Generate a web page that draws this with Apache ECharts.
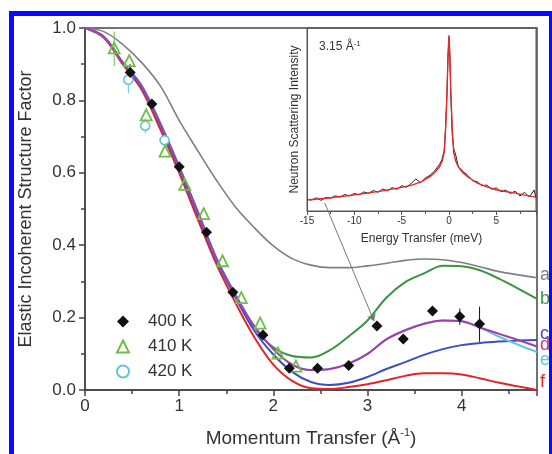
<!DOCTYPE html>
<html>
<head>
<meta charset="utf-8">
<script src="https://cdn.jsdelivr.net/npm/echarts@6/dist/echarts.min.js"></script>
<style>
  html, body { margin: 0; padding: 0; background: #fff; }
  #chart { width: 552px; height: 454px; }
</style>
</head>
<body>
<div id="chart"></div>
<script>
// momentum transfer grid for the model curves (1/A)
const qFit = [0, 0.2, 0.4, 0.6, 0.8, 1.0, 1.2, 1.4, 1.6, 1.8, 2.0, 2.2, 2.4,
  2.6, 2.8, 3.0, 3.2, 3.4, 3.6, 3.8, 4.0, 4.2, 4.4, 4.6, 4.8];
const curveA = [1.0, 0.99, 0.955, 0.905, 0.84, 0.745, 0.66, 0.578, 0.505, 0.448, 0.398, 0.363, 0.345,
  0.338, 0.338, 0.343, 0.35, 0.358, 0.362, 0.36, 0.352, 0.34, 0.327, 0.318, 0.31];
const curveB = [1.0, 0.976, 0.906, 0.842, 0.737, 0.618, 0.492, 0.362, 0.262, 0.172, 0.118, 0.094, 0.09,
  0.11, 0.148, 0.192, 0.255, 0.298, 0.322, 0.343, 0.342, 0.33, 0.307, 0.28, 0.252];
const curveC = [1.0, 0.975, 0.903, 0.836, 0.73, 0.61, 0.482, 0.355, 0.255, 0.163, 0.098, 0.05, 0.022,
  0.014, 0.02, 0.036, 0.058, 0.077, 0.097, 0.113, 0.124, 0.13, 0.134, 0.137, 0.138];
const curveD = [1.0, 0.976, 0.905, 0.84, 0.735, 0.615, 0.49, 0.36, 0.262, 0.175, 0.113, 0.07, 0.055,
  0.058, 0.073, 0.1, 0.14, 0.165, 0.183, 0.192, 0.19, 0.172, 0.155, 0.138, 0.12];
const curveE = [1.0, 0.976, 0.905, 0.84, 0.735, 0.615, 0.49, 0.36, 0.262, 0.175, 0.113, 0.07, 0.055,
  0.058, 0.073, 0.1, 0.14, 0.165, 0.183, 0.192, 0.19, 0.172, 0.147, 0.125, 0.105];
const curveF = [1.0, 0.973, 0.9, 0.83, 0.72, 0.6, 0.47, 0.345, 0.24, 0.145, 0.07, 0.025, 0.005,
  0.003, 0.008, 0.016, 0.027, 0.039, 0.046, 0.046, 0.043, 0.032, 0.02, 0.01, 0.0];
const curveNames = ['a', 'b', 'c', 'd', 'e', 'f'];

// measured elastic incoherent structure factor
const q400 = [0.48, 0.71, 1.0, 1.29, 1.57, 1.89, 2.17, 2.47, 2.80, 3.10, 3.38, 3.69, 3.98, 4.19];
const s400 = [0.877, 0.79, 0.617, 0.436, 0.27, 0.152, 0.06, 0.06, 0.068, 0.177, 0.141, 0.218, 0.203, 0.182];
const q410 = [0.31, 0.47, 0.65, 0.85, 1.06, 1.26, 1.46, 1.66, 1.86, 2.05, 2.24];
const s410 = [0.945, 0.91, 0.76, 0.66, 0.568, 0.487, 0.357, 0.255, 0.185, 0.102, 0.066];
const q420 = [0.46, 0.64, 0.845];
const s420 = [0.857, 0.73, 0.69];

// error bars: [q, low, high]
const err400 = [[0.48, 0.855, 0.9], [3.98, 0.18, 0.225], [4.19, 0.133, 0.23]];
const err410 = [[0.31, 0.895, 0.99]];
const err420 = [[0.46, 0.82, 0.89], [0.64, 0.71, 0.75]];

// inset: spectrum at 3.15 1/A
const eFit = [-15, -13, -11, -9, -7, -5, -4, -3, -2, -1.5, -1, -0.7, -0.5, -0.35, -0.2, -0.1, 0,
  0.1, 0.2, 0.35, 0.5, 0.7, 1, 1.5, 2, 3, 4, 5, 6, 7, 8, 9.2];
const iFit = [6.0, 7.0, 8.2, 9.5, 11.0, 12.9, 14.0, 15.8, 18.8, 21, 24, 27.5, 32, 45, 65, 85, 96,
  85, 65, 45, 32, 27.5, 24, 20.8, 18.6, 15.2, 13.2, 11.6, 10.6, 9.8, 8.7, 7.6];
const eObs = [-15, -14.5, -14, -13.5, -13, -12.5, -12, -11.5, -11, -10.5, -10, -9.5, -9, -8.5, -8,
  -7.5, -7, -6.5, -6, -5.5, -5, -4.5, -4, -3.5, -3, -2.5, -2, -1.5, -1, -0.75, -0.5, -0.35, -0.2,
  -0.1, 0, 0.1, 0.2, 0.35, 0.5, 0.75, 1, 1.25, 1.5, 2, 2.5, 3, 3.5, 4, 4.5, 5, 5.5, 6, 6.5, 7,
  7.5, 8, 8.5, 9, 9.2];
const iObs = [6.5, 6.0, 7.2, 5.8, 7.4, 7.0, 8.3, 7.6, 9.0, 8.2, 9.6, 8.8, 10.4, 9.6, 11.2,
  10.2, 12.0, 11.0, 12.8, 11.8, 13.8, 13.0, 15.0, 17.5, 15.5, 18.0, 19.5, 22.0, 25.5, 28.0, 33, 46, 66,
  84, 95, 84, 63, 42, 34, 30, 24, 23, 21.5, 19.5, 16.5, 16, 13.8, 14.2, 12.0, 12.6, 10.6, 11.4, 9.6, 10.8,
  8.2, 10.2, 7.6, 11.5, 7.0];

// pointer from the inset to the 3.1 1/A point
const pointerFrom = [2.545, 0.517];
const pointerTo = [3.07, 0.19];

const zip = (xs, ys) => xs.map((x, i) => [x, ys[i]]);
const font = 'Liberation Sans, Arial, sans-serif';
const ink = '#333';

function errorBar(params, api) {
  const lo = api.coord([api.value(0), api.value(1)]);
  const hi = api.coord([api.value(0), api.value(2)]);
  return {
    type: 'line',
    shape: { x1: lo[0], y1: lo[1], x2: hi[0], y2: hi[1] },
    style: { stroke: api.visual('color'), lineWidth: 1 }
  };
}

const curveStyle = [
  { data: curveA, color: '#7f7f7f', label: '#7f7f7f', width: 1.6, dy: -3 },
  { data: curveB, color: '#3b9442', label: '#3b9442', width: 2, dy: 0 },
  { data: curveF, color: '#e3232c', label: '#e3232c', width: 2, dy: -8, name: 'f' },
  { data: curveC, color: '#3c4fbf', label: '#3c4fbf', width: 2, dy: -6, name: 'c' },
  { data: curveE, color: '#62c6de', label: '#62c6de', width: 2, dy: 8, name: 'e' },
  { data: curveD, color: '#a43cae', label: '#c8357a', width: 2, dy: -2, name: 'd' }
];

const chart = echarts.init(document.getElementById('chart'));

const curveSeries = curveStyle.map((c, i) => ({
  type: 'line',
  name: c.name || curveNames[i],
  data: zip(qFit, c.data),
  smooth: 0.35,
  symbol: 'none',
  lineStyle: { color: c.color, width: c.width },
  itemStyle: { color: c.color },
  endLabel: {
    show: true,
    formatter: c.name || curveNames[i],
    color: c.label,
    fontSize: 18,
    fontFamily: font,
    distance: 3,
    offset: [0, c.dy]
  },
  z: 2 + i
}));

const option = {
  animation: false,
  title: {
    text: '{a|3.15 Å}{s|-1}',
    left: 314,
    top: 35,
    textStyle: {
      fontWeight: 'normal',
      rich: {
        a: { fontSize: 12, color: ink, fontFamily: font, fontWeight: 'normal' },
        s: { fontSize: 8, color: ink, fontFamily: font, fontWeight: 'normal', verticalAlign: 'top', padding: [0, 0, 6, 0] }
      }
    }
  },
  legend: {
    orient: 'vertical',
    left: 111,
    top: 308,
    itemGap: 8,
    itemWidth: 12,
    itemHeight: 12,
    data: ['400 K', '410 K', '420 K'],
    textStyle: { fontSize: 17, color: ink, fontFamily: font, padding: [0, 0, 0, 14] }
  },
  grid: [
    { left: 85, top: 28, width: 452, height: 362, show: true, borderColor: '#444', borderWidth: 1.5 },
    { left: 307, top: 28, width: 229, height: 183, show: true, borderColor: '#555', borderWidth: 1 }
  ],
  xAxis: [
    {
      type: 'value', gridIndex: 0, min: 0, max: 4.8, interval: 1,
      name: '{n|Momentum Transfer (Å}{s|-1}{n|)}',
      nameLocation: 'middle', nameGap: 37,
      nameTextStyle: {
        rich: {
          n: { fontSize: 19, color: ink, fontFamily: font, lineHeight: 24 },
          s: { fontSize: 11, color: ink, fontFamily: font, lineHeight: 24, verticalAlign: 'top' }
        }
      },
      axisLine: { lineStyle: { color: '#444', width: 1.5 } },
      axisTick: { length: 6, lineStyle: { color: '#444', width: 1.5 } },
      minorTick: { show: true, splitNumber: 2, length: 4, lineStyle: { color: '#444', width: 1.5 } },
      axisLabel: {
        fontSize: 17, color: ink, fontFamily: font, margin: 8, showMaxLabel: false,
        formatter: v => (Number.isInteger(v) ? String(v) : '')
      },
      splitLine: { show: false }
    },
    {
      type: 'value', gridIndex: 1, min: -15, max: 9.2, interval: 5,
      name: 'Energy Transfer (meV)',
      nameLocation: 'middle', nameGap: 22,
      nameTextStyle: { fontSize: 12, color: ink, fontFamily: font },
      axisLine: { onZero: false, lineStyle: { color: '#555', width: 1 } },
      axisTick: { length: 4, lineStyle: { color: '#555' } },
      minorTick: { show: true, splitNumber: 2, length: 3, lineStyle: { color: '#555' } },
      axisLabel: { fontSize: 10, color: ink, fontFamily: font, margin: 5, showMaxLabel: false },
      splitLine: { show: false }
    }
  ],
  yAxis: [
    {
      type: 'value', gridIndex: 0, min: 0, max: 1, interval: 0.2,
      name: 'Elastic Incoherent Structure Factor',
      nameLocation: 'middle', nameGap: 50,
      nameTextStyle: { fontSize: 18, color: ink, fontFamily: font },
      axisLine: { show: true, onZero: false, lineStyle: { color: '#444', width: 1.5 } },
      axisTick: { show: true, length: 6, lineStyle: { color: '#444', width: 1.5 } },
      minorTick: { show: true, splitNumber: 2, length: 4, lineStyle: { color: '#444', width: 1.5 } },
      axisLabel: { fontSize: 17, color: ink, fontFamily: font, margin: 9, formatter: v => v.toFixed(1) },
      splitLine: { show: false }
    },
    {
      type: 'value', gridIndex: 1, min: 0, max: 100,
      name: 'Neutron Scattering Intensity',
      nameLocation: 'middle', nameGap: 6,
      nameTextStyle: { fontSize: 12, color: ink, fontFamily: font },
      axisLine: { show: true, onZero: false, lineStyle: { color: '#555', width: 1 } },
      axisTick: { show: false },
      axisLabel: { show: false },
      splitLine: { show: false }
    }
  ],
  graphic: [
    {
      type: 'rect', z: 100, silent: true,
      shape: { x: 11.5, y: 13.5, width: 540, height: 470 },
      style: { fill: 'none', stroke: '#0a0aff', lineWidth: 5 }
    }
  ],
  series: [
    ...curveSeries,
    {
      type: 'custom', name: 'err410', renderItem: errorBar, data: err410,
      encode: { x: 0, y: [1, 2] }, itemStyle: { color: '#6cbf47' }, z: 9
    },
    {
      type: 'custom', name: 'err420', renderItem: errorBar, data: err420,
      encode: { x: 0, y: [1, 2] }, itemStyle: { color: '#62c4d6' }, z: 9
    },
    {
      type: 'custom', name: 'err400', renderItem: errorBar, data: err400,
      encode: { x: 0, y: [1, 2] }, itemStyle: { color: '#111' }, z: 9
    },
    {
      type: 'scatter', name: '420 K', data: zip(q420, s420),
      symbol: 'circle', symbolSize: 9,
      itemStyle: { color: '#fff', borderColor: '#62c4d6', borderWidth: 1.6, opacity: 1 }, z: 10
    },
    {
      type: 'scatter', name: '410 K', data: zip(q410, s410),
      symbol: 'triangle', symbolSize: 11,
      itemStyle: { color: 'rgba(255,255,255,0)', borderColor: '#6cbf47', borderWidth: 1.8, opacity: 1 }, z: 11
    },
    {
      type: 'scatter', name: '400 K', data: zip(q400, s400),
      symbol: 'diamond', symbolSize: 11,
      itemStyle: { color: '#111', opacity: 1 }, z: 12,
      markLine: {
        silent: true,
        symbol: ['none', 'arrow'],
        symbolSize: 7,
        label: { show: false },
        lineStyle: { color: '#777', width: 1, type: 'solid' },
        data: [[{ coord: pointerFrom }, { coord: pointerTo }]]
      }
    },
    {
      type: 'line', name: 'data', xAxisIndex: 1, yAxisIndex: 1,
      data: zip(eObs, iObs), symbol: 'none',
      lineStyle: { color: '#222', width: 1 }, z: 3
    },
    {
      type: 'line', name: 'fit', xAxisIndex: 1, yAxisIndex: 1,
      data: zip(eFit, iFit), symbol: 'none',
      lineStyle: { color: '#e8262e', width: 1.4 }, z: 4
    }
  ]
};

chart.setOption(option);
</script>
</body>
</html>
